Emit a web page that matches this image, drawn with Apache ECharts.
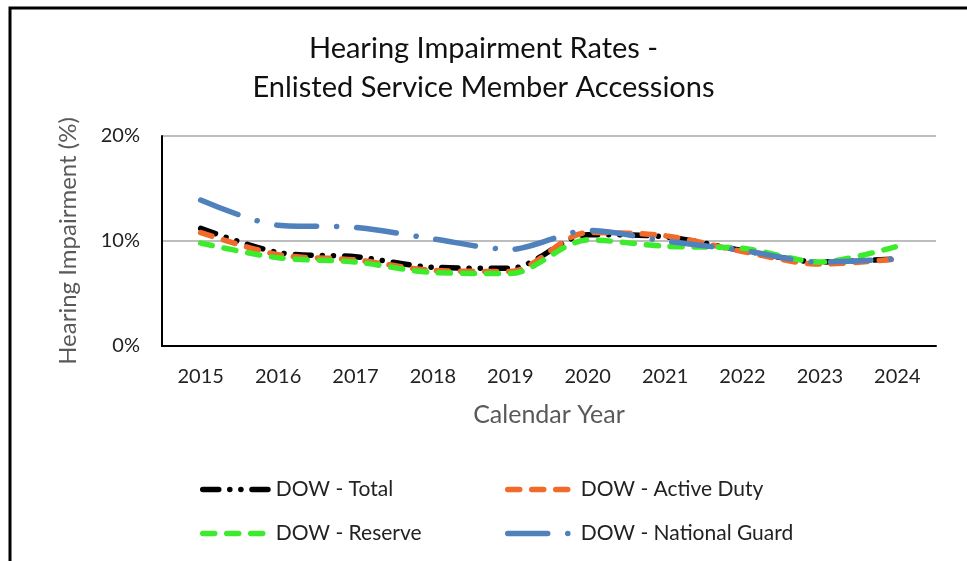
<!DOCTYPE html>
<html>
<head>
<meta charset="utf-8">
<script src="https://cdn.jsdelivr.net/npm/echarts@6/dist/echarts.min.js"></script>
<style>html,body{margin:0;padding:0;background:#fff}#c{width:967px;height:561px}</style>
</head>
<body>
<div id="c"></div>
<script>
const years = ['2015','2016','2017','2018','2019','2020','2021','2022','2023','2024'];
const total = [11.2, 8.9, 8.5, 7.5, 7.4, 10.6, 10.4, 9.1, 8.0, 8.3];
const activeDuty = [10.8, 8.7, 8.2, 7.2, 7.1, 10.8, 10.5, 9.0, 7.8, 8.3];
const reserve = [9.8, 8.4, 8.0, 7.0, 6.9, 10.1, 9.5, 9.3, 8.0, 9.5];
const nationalGuard = [13.9, 11.5, 11.3, 10.2, 9.2, 11.0, 10.0, 9.1, 8.0, 8.3];
const yTicks = [0, 10, 20];

const FONT = 'Lato';
const chart = echarts.init(document.getElementById('c'));
function mk(name, data, color, dash, cap) {
  return {
    name, type: 'line', data, smooth: 0.3, symbol: 'none', showSymbol: false,
    lineStyle: { color, width: 5.5, type: dash, cap: cap || 'round', join: 'round' },
    itemStyle: { color }
  };
}
function leg(name, left, top) {
  return {
    data: [name], left, top, itemWidth: 66, itemHeight: 12,
    itemStyle: { opacity: 0 },
    lineStyle: { width: 5.5 },
    textStyle: { fontFamily: FONT, fontSize: 21, color: '#222', padding: [0,0,0,2] },
    selectedMode: false
  };
}
chart.setOption({
  animation: false,
  backgroundColor: '#fff',
  title: {
    text: 'Hearing Impairment Rates -\nEnlisted Service Member Accessions',
    left: 'center', top: 24,
    textStyle: { fontFamily: FONT, fontWeight: 'normal', fontSize: 29, lineHeight: 39, color: '#111' }
  },
  graphic: [{
    type: 'polyline', shape: { points: [[10, 561], [10, 8], [967, 8]] },
    style: { stroke: '#000', lineWidth: 3, fill: null }
  }],
  legend: [
    leg('DOW - Total', 195, 474),
    leg('DOW - Active Duty', 500, 474),
    leg('DOW - Reserve', 195, 518),
    leg('DOW - National Guard', 500, 518)
  ],
  grid: { left: 162, right: 31, top: 136, bottom: 215 },
  xAxis: {
    type: 'category', data: years, boundaryGap: true,
    name: 'Calendar Year', nameLocation: 'middle', nameGap: 56,
    nameTextStyle: { fontFamily: FONT, fontSize: 25, color: '#595959' },
    axisLine: { lineStyle: { color: '#000', width: 2 } },
    axisTick: { show: false },
    axisLabel: { fontFamily: FONT, fontSize: 20, color: '#222', margin: 21 }
  },
  yAxis: {
    type: 'value', min: yTicks[0], max: yTicks[yTicks.length - 1], interval: 10,
    name: 'Hearing Impairment (%)', nameLocation: 'middle', nameGap: 82,
    nameTextStyle: { fontFamily: FONT, fontSize: 24, color: '#595959' },
    axisLine: { show: true, lineStyle: { color: '#000', width: 2 } },
    axisTick: { show: false },
    axisLabel: { fontFamily: FONT, fontSize: 20, color: '#222', margin: 22, formatter: '{value}%' },
    splitLine: { lineStyle: { color: '#BDBDBD', width: 2 } }
  },
  series: [
    mk('DOW - Total', total, '#000000', [16, 11, 0.1, 11, 0.1, 11]),
    mk('DOW - Active Duty', activeDuty, '#F26A2A', [12, 12]),
    mk('DOW - Reserve', reserve, '#3CEB2C', [12, 12]),
    mk('DOW - National Guard', nationalGuard, '#4F81BD', [40, 20, 0.1, 20])
  ]
});
</script>
</body>
</html>
